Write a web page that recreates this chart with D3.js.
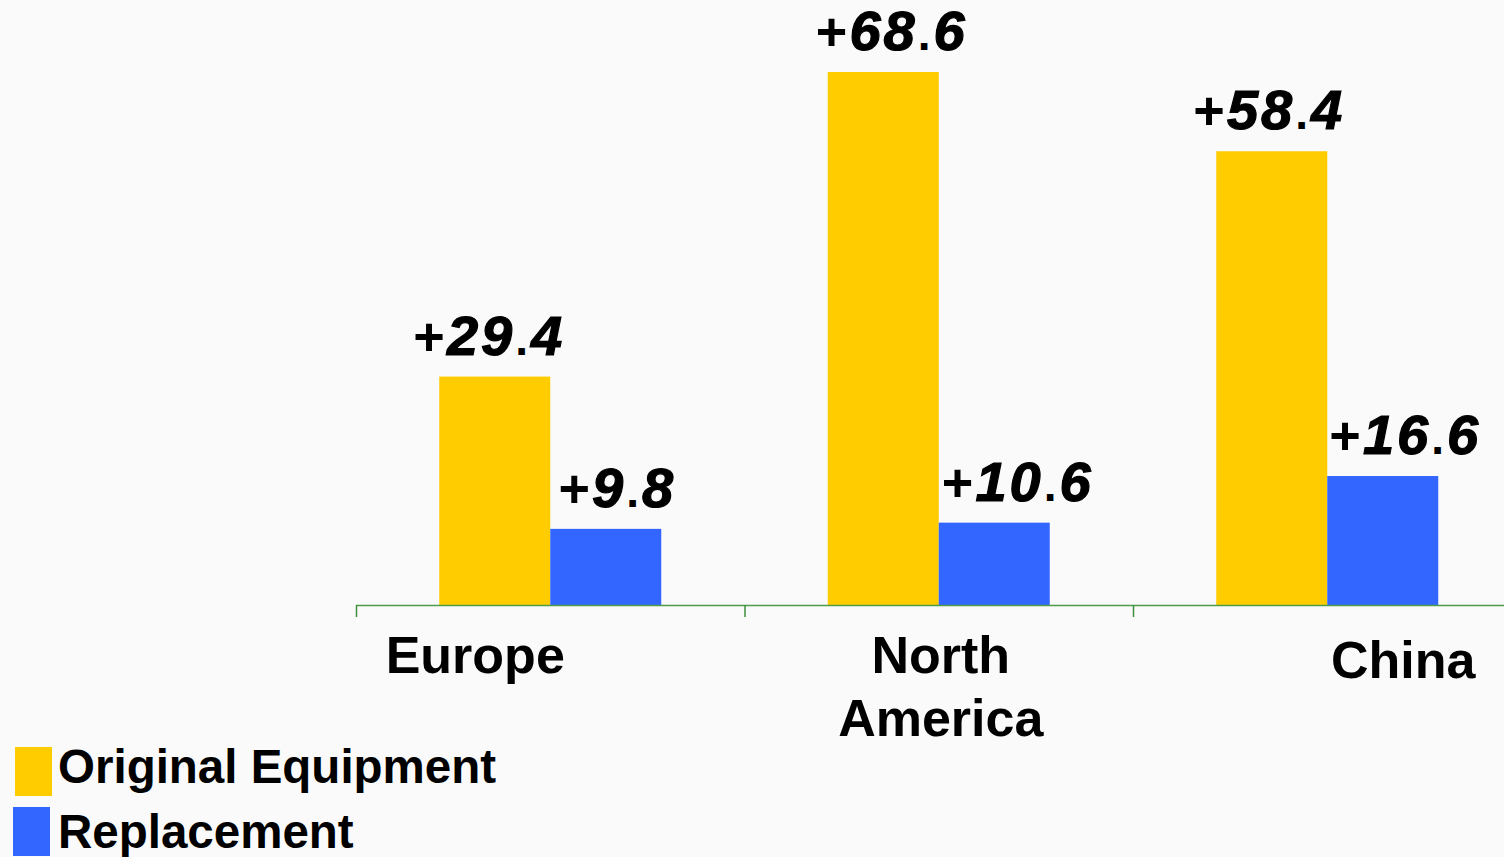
<!DOCTYPE html>
<html><head><meta charset="utf-8">
<script src="https://cdn.jsdelivr.net/npm/d3@7/dist/d3.min.js"></script>
<style>
html,body{margin:0;padding:0;background:#fafafa;}
svg{display:block;font-family:"Liberation Sans",Arial,sans-serif;}
</style></head><body>
<div id="chart"></div>
<script>
const categories = ["Europe", "North America", "China"];
const seriesNames = ["Original Equipment", "Replacement"];
const originalEquipment = [29.4, 68.6, 58.4];
const replacement = [9.8, 10.6, 16.6];
const seriesColors = ["#FFCC00", "#3366FF"];

// layout nudges (pixels), not data
const labelNudge = [[-7, 10], [7, 22], [-4, 21]];
const catNudge = [-75, 2, 76];

const W = 1504, H = 857;
const svg = d3.select("#chart").append("svg").attr("width", W).attr("height", H);
svg.append("rect").attr("width", W).attr("height", H).attr("fill", "#fafafa");

const x0 = d3.scaleBand().domain(categories).range([356, 356 + 3 * 388.5]).paddingInner(0).paddingOuter(0);
const x1 = d3.scaleBand().domain(seriesNames).range([0, x0.bandwidth()]).paddingInner(0).paddingOuter(0.75);
const y = d3.scaleLinear().domain([0, 68.6]).range([605, 72]);

const rows = categories.map((c, i) => ({cat: c, i, vals: [originalEquipment[i], replacement[i]]}));

const g = svg.selectAll("g.cat").data(rows).join("g").attr("class", "cat")
  .attr("transform", d => `translate(${x0(d.cat)},0)`);

g.selectAll("rect").data(d => d.vals.map((v, k) => ({v, k, i: d.i}))).join("rect")
  .attr("x", d => x1(seriesNames[d.k]))
  .attr("y", d => y(d.v))
  .attr("width", x1.bandwidth())
  .attr("height", d => y(0) - y(d.v))
  .attr("fill", d => seriesColors[d.k]);

// value labels
const lab = g.selectAll("text.val").data(d => d.vals.map((v, k) => ({v, k, i: d.i}))).join("text")
  .attr("class", "val")
  .attr("x", d => x1(seriesNames[d.k]) + x1.bandwidth() / 2 + labelNudge[d.i][d.k])
  .attr("y", d => y(d.v) - 22)
  .attr("text-anchor", "middle")
  .attr("fill", "#000")
  .attr("font-weight", "bold");
lab.each(function(d) {
  const s = d.v.toFixed(1).split(".");
  const t = d3.select(this);
  t.append("tspan").attr("font-size", 54).text("+");
  t.append("tspan").attr("font-size", 56).attr("font-style", "italic").attr("letter-spacing", 3)
    .attr("stroke", "#000").attr("stroke-width", 1.2).attr("dx", 2).text(s[0]);
  t.append("tspan").attr("font-size", 46).attr("letter-spacing", 3).text(".");
  t.append("tspan").attr("font-size", 56).attr("font-style", "italic")
    .attr("stroke", "#000").attr("stroke-width", 1.2).text(s[1]);
});

// axis
const axis = svg.append("g");
axis.append("line").attr("x1", 356).attr("x2", W).attr("y1", 605.5).attr("y2", 605.5)
  .attr("stroke", "#4c9c4c").attr("stroke-width", 1.5);
categories.forEach(c => {
  axis.append("line").attr("x1", x0(c) + 0.5).attr("x2", x0(c) + 0.5).attr("y1", 605).attr("y2", 617)
    .attr("stroke", "#3c8f3c").attr("stroke-width", 1.5);
});

// category labels
rows.forEach(d => {
  const cx = x0(d.cat) + x0.bandwidth() / 2 + catNudge[d.i];
  const words = d.cat === "North America" ? ["North", "America"] : [d.cat];
  const baseY = d.i === 2 ? 678 : 673;
  words.forEach((w, j) => {
    svg.append("text").attr("x", cx).attr("y", baseY + j * 63)
      .attr("text-anchor", "middle").attr("font-size", 52).attr("font-weight", "bold")
      .attr("fill", "#000").text(w);
  });
});

// legend
const legend = svg.append("g");
const legPos = [{sx: 15, sy: 747, ty: 783}, {sx: 13, sy: 807, ty: 848}];
seriesNames.forEach((n, k) => {
  legend.append("rect").attr("x", legPos[k].sx).attr("y", legPos[k].sy).attr("width", 37).attr("height", 49)
    .attr("fill", seriesColors[k]);
  legend.append("text").attr("x", 58).attr("y", legPos[k].ty).attr("font-size", 47.5).attr("font-weight", "bold")
    .attr("fill", "#000").text(n);
});
</script>
</body></html>
